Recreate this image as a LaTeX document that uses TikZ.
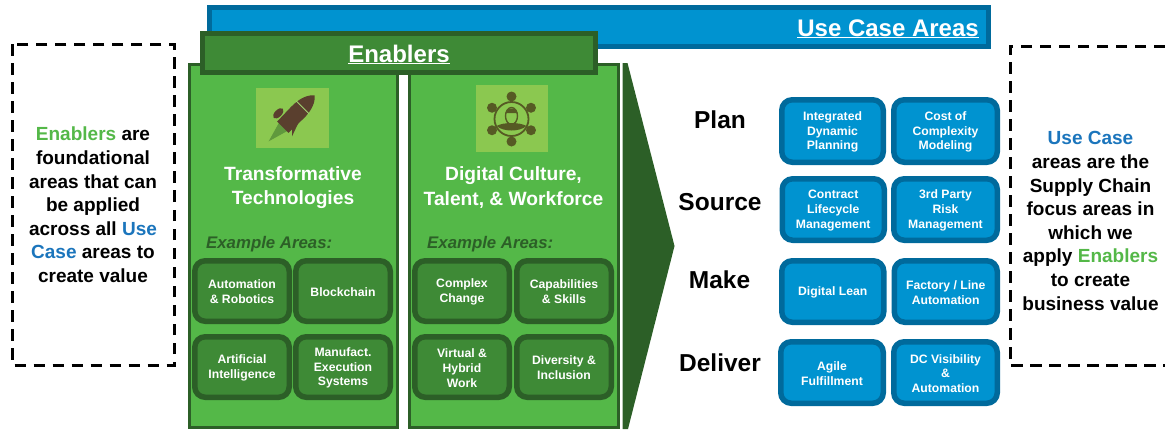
\documentclass[tikz,border=0pt]{standalone}
\usepackage{fontspec}
\setmainfont{Liberation Sans}
\definecolor{bluefill}{HTML}{0093D0}
\definecolor{blueedge}{HTML}{006A9C}
\definecolor{greenpanel}{HTML}{54B848}
\definecolor{greenedge}{HTML}{2C5F27}
\definecolor{greenmid}{HTML}{3E8A36}
\definecolor{iconbg}{HTML}{8BC850}
\definecolor{useblue}{HTML}{1B75BC}
\definecolor{enabgreen}{HTML}{54B848}
\definecolor{rocketbrown}{HTML}{5A3F2E}
\definecolor{peopledark}{HTML}{565A24}
\tikzset{
  box/.style={rounded corners=10.5bp,line width=5.5bp},
  gbox/.style={box,draw=greenedge,fill=greenmid},
  bbox/.style={box,draw=blueedge,fill=bluefill},
  stage/.style={font=\fontsize{24.5bp}{28bp}\selectfont\bfseries,text=black,inner sep=0pt},
  paneltitle/.style={font=\fontsize{19.2bp}{24.4bp}\selectfont\bfseries,text=white,align=center,inner sep=0pt},
  panel/.style={draw=greenedge,fill=greenpanel,line width=3bp},
  example/.style={font=\fontsize{16.8bp}{19bp}\selectfont\bfseries\itshape,text=greenedge,inner sep=0pt},
  sidebox/.style={draw=black,line width=3bp,dash pattern=on 11.5bp off 7.5bp},
  sidetext/.style={font=\fontsize{19bp}{23.6bp}\selectfont\bfseries,text=black,align=center,inner sep=0pt},
}
\newcommand{\nb}[7]{% style, name, x1,y1,x2,y2, text
  \draw[#1] (#3+2.75,#4+2.75) rectangle (#5-2.75,#6-2.75);
  \node[align=center,text=white,font=\fontsize{12.2bp}{14.8bp}\selectfont\bfseries,inner sep=0pt] (#2) at ({(#3+#5)/2},{(#4+#6)/2+1}) {#7};
}
\begin{document}
\begin{tikzpicture}[x=1bp,y=-1bp]
\useasboundingbox (0,0) rectangle (1165,429);
% side boxes
\draw[sidebox] (12.5,44) rectangle (174.5,365);
\draw[sidebox] (1165,46) -- (1010,46) -- (1010,365) -- (1165,365);
\node[sidetext] (lefttext) at (93,205) {\textcolor{enabgreen}{Enablers} are\\foundational\\areas that can\\be applied\\across all \textcolor{useblue}{Use}\\\textcolor{useblue}{Case} areas to\\create value};
\node[sidetext] (righttext) at (1090.5,221) {\textcolor{useblue}{Use Case}\\areas are the\\Supply Chain\\focus areas in\\which we\\apply \textcolor{enabgreen}{Enablers}\\to create\\business value};
% top bars
\draw[draw=blueedge,fill=bluefill,line width=5bp] (209.5,7.5) rectangle (988.5,46.5);
\node[font=\fontsize{24bp}{28bp}\selectfont\bfseries,text=white,inner sep=0pt,anchor=base east] (usecase) at (979,36) {\underline{Use Case Areas}};
% panels
\draw[panel] (189,64.5) rectangle (397.5,427.5);
\draw[panel] (409.5,64.5) rectangle (618.5,427.5);
\draw[draw=greenedge,fill=greenmid,line width=5bp] (202.5,33.5) rectangle (595.5,72.5);
\node[font=\fontsize{24bp}{28bp}\selectfont\bfseries,text=white,inner sep=0pt,anchor=base] (enablers) at (399,62) {\underline{Enablers}};
% chevron
\fill[greenedge] (622.7,63) -- (627.5,63) -- (674.5,246) -- (628,429) -- (622.7,429) -- cycle;
% rocket icon
\fill[iconbg] (256,88) rectangle (329,148);
\begin{scope}[shift={(292,118)},rotate=45]
  \fill[iconbg!55!greenedge] (-12,-6) -- (-12,6) -- (-33,0) -- cycle;
  \fill[rocketbrown] (-13,-8) -- (6,-8.5) .. controls (20,-9) and (28,-5) .. (32,0) .. controls (28,5) and (20,9) .. (6,8.5) -- (-13,8) -- cycle;
  \draw[iconbg!80!white,line width=1bp] (15,-9) -- (15,9);
  \fill[rocketbrown] (-6.4,-13) ellipse (6.5 and 3.5);
  \fill[rocketbrown] (-8,8) -- (-13,13) -- (1,8) -- cycle;
\end{scope}
% people icon
\fill[iconbg] (476,85) rectangle (548,152);
\begin{scope}[shift={(511.5,119)}]
  \draw[peopledark,line width=1.8bp] (0,0) circle (17);
  \foreach \a in {30,90,150,210,270,330}{
    \fill[peopledark] (\a:22.5) circle (5);
  }
  \draw[peopledark,line width=1.4bp] (0,-3) ellipse (6 and 8.5);
  \fill[peopledark] (-6,-6) .. controls (-5,-12) and (5,-12) .. (6,-6) -- cycle;
  \fill[peopledark] (-15,7) .. controls (-8,3) and (8,3) .. (15,7) .. controls (8,13) and (-8,13) .. (-15,7) -- cycle;
\end{scope}
% panel titles
\node[paneltitle] (t1) at (293,187.5) {Transformative\\Technologies};
\node[paneltitle] (t2) at (513.5,187.5) {Digital Culture,\\Talent, \& Workforce};
\node[example,anchor=base west] (ex1) at (206,248) {Example Areas:};
\node[example,anchor=base west] (ex2) at (427,248) {Example Areas:};
% green small boxes
\nb{gbox}{g1}{192}{258}{292}{324}{Automation\\\& Robotics}
\nb{gbox}{g2}{293}{258}{393}{324}{Blockchain}
\nb{gbox}{g3}{192}{334}{292}{400}{Artificial\\Intelligence}
\nb{gbox}{g4}{293}{334}{393}{400}{Manufact.\\Execution\\Systems}
\nb{gbox}{g5}{412}{258}{512}{324}{Complex\\Change}
\nb{gbox}{g6}{514}{258}{614}{324}{Capabilities\\\& Skills}
\nb{gbox}{g7}{412}{334}{512}{400}{Virtual \&\\Hybrid\\Work}
\nb{gbox}{g8}{514}{334}{614}{400}{Diversity \&\\Inclusion}
% stages
\node[stage] (plan) at (720,120) {Plan};
\node[stage] (source) at (720,202) {Source};
\node[stage] (make) at (719.5,280) {Make};
\node[stage] (deliver) at (720,363) {Deliver};
% blue small boxes
\nb{bbox}{b1}{779}{97}{886}{165}{Integrated\\Dynamic\\Planning}
\nb{bbox}{b2}{891}{97}{1000}{165}{Cost of\\Complexity\\Modeling}
\nb{bbox}{b3}{779.5}{176}{887}{243}{Contract\\Lifecycle\\Management}
\nb{bbox}{b4}{891}{176}{1000}{243}{3rd Party\\Risk\\Management}
\nb{bbox}{b5}{779}{258}{886.5}{325}{Digital Lean}
\nb{bbox}{b6}{891.5}{258}{1000}{325}{Factory / Line\\Automation}
\nb{bbox}{b7}{778}{339}{886}{406}{Agile\\Fulfillment}
\nb{bbox}{b8}{891}{339}{1000}{406}{DC Visibility\\\&\\Automation}
\end{tikzpicture}
\end{document}
